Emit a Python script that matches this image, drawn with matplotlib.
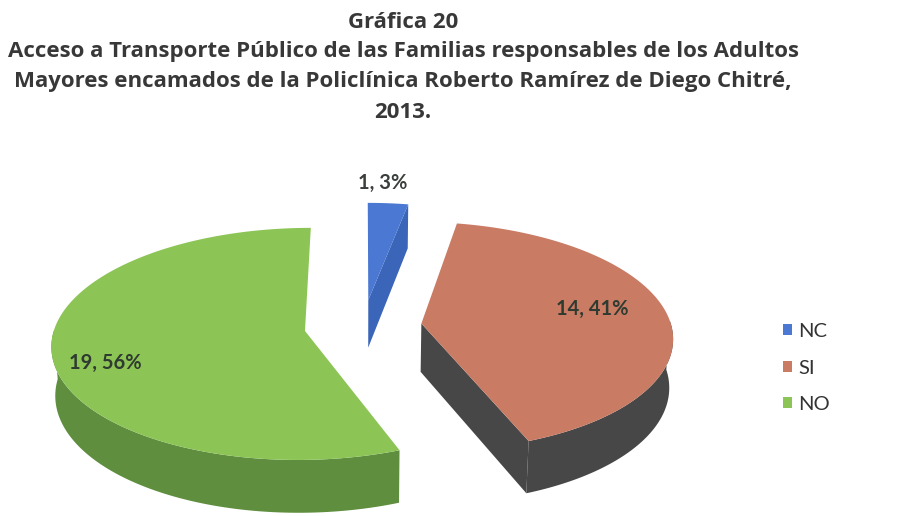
import numpy as np
import matplotlib.pyplot as plt
from matplotlib.patches import Polygon, Patch

# --- data ---
labels = ["NC", "SI", "NO"]
counts = [1, 14, 19]
top_colors = ["#4a78d2", "#c97b64", "#8cc456"]
side_colors = ["#3a65b8", "#474747", "#5f8f3e"]

title_lines = [
    "Gráfica 20",
    "Acceso a Transporte Público de las Familias responsables de los Adultos",
    "Mayores encamados de la Policlínica Roberto Ramírez de Diego Chitré,",
    "2013.",
]

total = sum(counts)
pcts = [round(100 * c / total) for c in counts]

# --- 3d view settings ---
cx, cy = 363, 326          # screen centre of the pie (px)
S = 250                    # radius in px
tilt = np.radians(27)
dist = 8.0                 # camera distance (in radii)
h = 0.22                   # thickness
explode = 0.235
# label placement inside slices: (radius fraction, angle shift from mid in deg)
label_pos = [None, (0.71, 5.6), (0.81, 8.8)]


def proj(x, y, z):
    depth = dist + y * np.cos(tilt) - z * np.sin(tilt)
    k = S * dist / depth
    return np.column_stack([cx + x * k, cy - (y * np.sin(tilt) + z * np.cos(tilt)) * k])


fig = plt.figure(figsize=(9.11, 5.16), dpi=100)
ax = fig.add_axes([0, 0, 1, 1])
ax.set_xlim(0, 911)
ax.set_ylim(516, 0)
ax.axis("off")

# slice angles: start at 12 o'clock, go clockwise
slices = []
start = 90.0
for i, c in enumerate(counts):
    sweep = 360.0 * c / total
    a1, a2 = start - sweep, start
    mid = (a1 + a2) / 2
    slices.append((i, a1, a2, mid))
    start = a1

# paint back slices first
for i, a1, a2, mid in sorted(slices, key=lambda s: -np.sin(np.radians(s[3]))):
    m = np.radians(mid)
    ox, oy = explode * np.cos(m), explode * np.sin(m)
    t = np.radians(np.linspace(a1, a2, 160))

    # outer rim, front half only
    tf = t[np.sin(t) < 0.02]
    if len(tf) > 1:
        rx, ry = ox + np.cos(tf), oy + np.sin(tf)
        rim_top = proj(rx, ry, np.zeros_like(tf))
        rim_bot = proj(rx, ry, np.full_like(tf, -h))
        ax.add_patch(Polygon(np.vstack([rim_top, rim_bot[::-1]]),
                             closed=True, fc=side_colors[i], ec="none"))

    # radial cut faces facing the viewer
    for a, normal in ((a1, a1 - 90), (a2, a2 + 90)):
        if np.sin(np.radians(normal)) < -0.02:
            ar = np.radians(a)
            xs = np.array([ox, ox + np.cos(ar), ox + np.cos(ar), ox])
            ys = np.array([oy, oy + np.sin(ar), oy + np.sin(ar), oy])
            zs = np.array([0, 0, -h, -h])
            ax.add_patch(Polygon(proj(xs, ys, zs), closed=True,
                                 fc=side_colors[i], ec="none"))

    # top face
    top = proj(np.r_[ox, ox + np.cos(t)], np.r_[oy, oy + np.sin(t)], np.zeros(len(t) + 1))
    ax.add_patch(Polygon(top, closed=True, fc=top_colors[i], ec="none"))

    # data label
    txt = f"{counts[i]}, {pcts[i]}%"
    if label_pos[i] is None:
        p = proj(np.array([ox + np.cos(m)]), np.array([oy + np.sin(m)]), np.array([0.0]))[0]
        ax.text(p[0] - 5, p[1] - 20, txt, ha="center", va="center",
                fontsize=14.5, fontweight="bold", color="#3b3f3b", family="Lato")
    else:
        r, shift = label_pos[i]
        la = np.radians(mid + shift)
        p = proj(np.array([ox + r * np.cos(la)]), np.array([oy + r * np.sin(la)]), np.array([0.0]))[0]
        ax.text(p[0], p[1], txt, ha="center", va="center",
                fontsize=14.5, fontweight="bold", color="#2f3a30", family="Lato")

# title
for k, line in enumerate(title_lines):
    ax.text(403, 22 + 30 * k, line, ha="center", va="center",
            fontsize=16, fontweight="bold", color="#383838", family="Open Sans")

# legend
handles = [Patch(facecolor=c, edgecolor="none") for c in top_colors]
ax.legend(handles, labels, loc="center left", bbox_to_anchor=(765 / 911, 1 - 368 / 516),
          frameon=False, handlelength=0.45, handleheight=0.45, handletextpad=0.3,
          labelspacing=0.97, prop={"family": "Lato", "size": 14.5}, labelcolor="#333333")

fig.savefig("out.png", dpi=100, facecolor="white")
